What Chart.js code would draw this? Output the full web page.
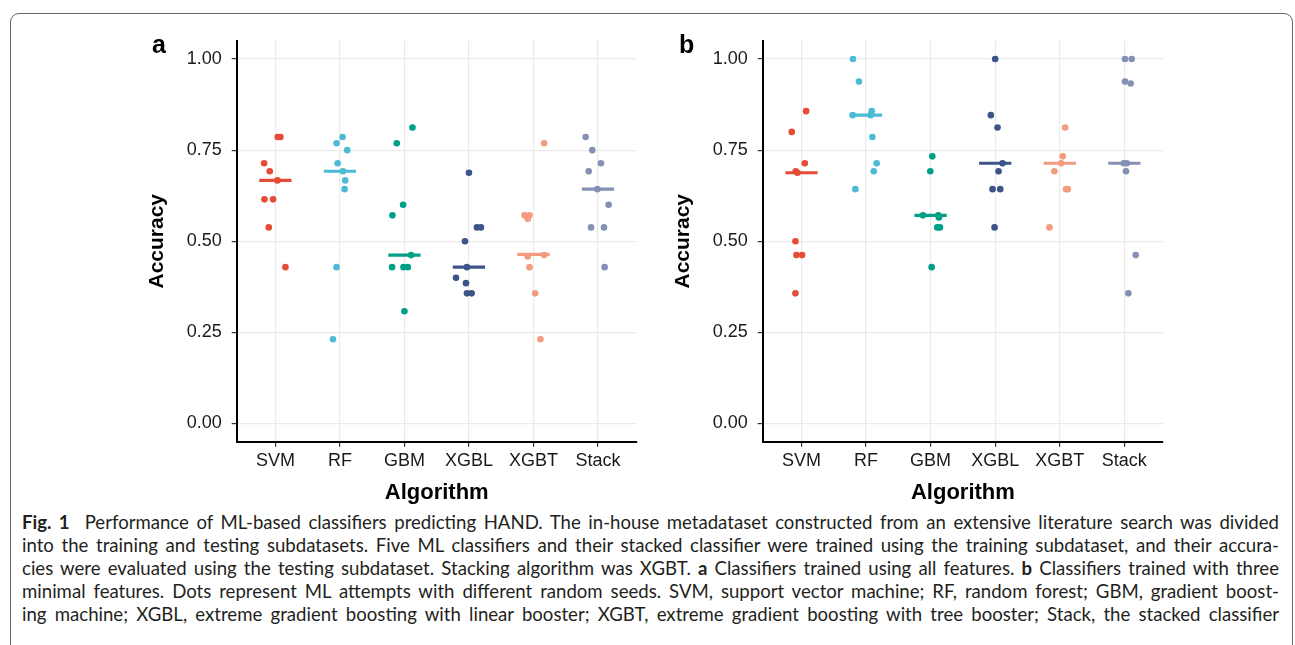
<!DOCTYPE html>
<html lang="en">
<head>
  <meta charset="UTF-8">
  <title>Fig. 1 - Accuracy of ML classifiers</title>
  <script src="https://cdn.jsdelivr.net/npm/chart.js"></script>
  <style>
    body { margin: 0; background: #fff; width: 1295px; height: 645px; overflow: hidden; position: relative; }
    .frame {
      position: absolute; left: 10px; top: 13px; width: 1283px; height: 700px;
      border: 1.3px solid #666; border-radius: 9px; box-sizing: border-box;
    }
    canvas { position: absolute; }
    .tag { position: absolute; font-family: "Liberation Sans", Arial, sans-serif; font-weight: bold; font-size: 25px; color: #000; }
    .caption {
      position: absolute; left: 22px; top: 511px; width: 1257px;
      font-family: Lato, "Open Sans", sans-serif; font-size: 18.6px; color: #231f20;
    }
    .caption div { height: 23px; line-height: 23px; white-space: nowrap; text-align: justify; text-align-last: justify; }
  </style>
</head>
<body>
  <div class="frame"></div>
  <canvas id="chartA" width="530" height="490" style="left:130px; top:20px;"></canvas>
  <canvas id="chartB" width="530" height="490" style="left:655.6px; top:20px;"></canvas>
  <div class="tag" style="left:152px; top:30px;">a</div>
  <div class="tag" style="left:679px; top:30px;">b</div>
  <div class="caption">
    <div><b>Fig. 1</b>&nbsp; Performance of ML-based classifiers predicting HAND. The in-house metadataset constructed from an extensive literature search was divided</div>
    <div>into the training and testing subdatasets. Five ML classifiers and their stacked classifier were trained using the training subdataset, and their accura-</div>
    <div>cies were evaluated using the testing subdataset. Stacking algorithm was XGBT. <b>a</b> Classifiers trained using all features. <b>b</b> Classifiers trained with three</div>
    <div>minimal features. Dots represent ML attempts with different random seeds. SVM, support vector machine; RF, random forest; GBM, gradient boost-</div>
    <div>ing machine; XGBL, extreme gradient boosting with linear booster; XGBT, extreme gradient boosting with tree booster; Stack, the stacked classifier</div>
  </div>

  <script>
    const algorithms = ["SVM", "RF", "GBM", "XGBL", "XGBT", "Stack"];
    const yTicks = [0, 0.25, 0.5, 0.75, 1];

    // panel a: all features (accuracy per random seed)
    const svmA   = [0.786, 0.786, 0.714, 0.692, 0.667, 0.615, 0.615, 0.538, 0.429];
    const rfA    = [0.786, 0.769, 0.750, 0.714, 0.692, 0.667, 0.643, 0.429, 0.231];
    const gbmA   = [0.812, 0.769, 0.600, 0.571, 0.462, 0.429, 0.429, 0.429, 0.308];
    const xgblA  = [0.688, 0.538, 0.538, 0.500, 0.429, 0.400, 0.385, 0.357, 0.357];
    const xgbtA  = [0.769, 0.571, 0.571, 0.562, 0.462, 0.458, 0.429, 0.357, 0.231];
    const stackA = [0.786, 0.750, 0.714, 0.692, 0.643, 0.600, 0.538, 0.538, 0.429];
    const medianA = [0.667, 0.692, 0.462, 0.429, 0.464, 0.643];

    // panel b: three minimal features
    const svmB   = [0.857, 0.800, 0.714, 0.692, 0.688, 0.500, 0.462, 0.462, 0.357];
    const rfB    = [1.000, 0.938, 0.857, 0.846, 0.846, 0.786, 0.714, 0.692, 0.643];
    const gbmB   = [0.733, 0.692, 0.571, 0.571, 0.565, 0.538, 0.538, 0.429];
    const xgblB  = [1.000, 0.846, 0.812, 0.714, 0.692, 0.643, 0.643, 0.538];
    const xgbtB  = [0.812, 0.733, 0.714, 0.692, 0.643, 0.643, 0.538];
    const stackB = [1.000, 1.000, 0.938, 0.933, 0.714, 0.714, 0.692, 0.462, 0.357];
    const medianB = [0.688, 0.846, 0.571, 0.714, 0.714, 0.714];

    // horizontal jitter of each dot (category units)
    const jSvmA   = [0.036, 0.077, -0.175, -0.088, 0.031, -0.036, -0.170, -0.103, 0.155];
    const jRfA    = [0.041, -0.052, 0.113, -0.036, 0.046, 0.082, 0.072, -0.052, -0.108];
    const jGbmA   = [0.124, -0.119, -0.021, -0.186, 0.103, -0.191, -0.015, 0.052, 0.0];
    const jXgblA  = [0.0, 0.124, 0.186, -0.062, -0.031, -0.201, -0.046, -0.031, 0.041];
    const jXgbtA  = [0.165, -0.139, -0.062, -0.088, 0.165, -0.088, -0.062, 0.026, 0.108];
    const jStackA = [-0.191, -0.088, 0.046, -0.144, -0.010, 0.165, -0.108, 0.093, 0.103];

    const jSvmB   = [0.072, -0.150, 0.052, -0.088, -0.062, -0.093, -0.078, 0.010, -0.093];
    const jRfB    = [-0.202, -0.109, 0.088, -0.207, 0.072, 0.098, 0.165, 0.119, -0.165];
    const jGbmB   = [0.026, -0.005, -0.119, 0.119, 0.129, 0.103, 0.145, 0.016];
    const jXgblB  = [0.0, -0.067, 0.036, 0.114, 0.052, -0.041, 0.078, -0.010];
    const jXgbtB  = [0.083, 0.047, 0.021, -0.083, 0.098, 0.124, -0.160];
    const jStackB = [0.010, 0.114, 0.010, 0.098, -0.010, 0.036, 0.026, 0.176, 0.062];

    const colors = ["#E64B35", "#4DBBD5", "#00A087", "#3C5488", "#F39B7F", "#8491B4"];
    const FONT = "'Liberation Sans', Arial, Helvetica, sans-serif";

    function buildDatasets(groups, jitters, medians) {
      const sets = [];
      groups.forEach((vals, i) => {
        sets.push({
          type: "line",
          data: [{ x: i + 1 - 0.25, y: medians[i] }, { x: i + 1 + 0.25, y: medians[i] }],
          borderColor: colors[i],
          borderWidth: 3.2,
          borderCapStyle: "butt",
          pointRadius: 0,
          order: 1
        });
        sets.push({
          type: "scatter",
          data: vals.map((v, k) => ({ x: i + 1 + jitters[i][k], y: v })),
          backgroundColor: colors[i],
          borderWidth: 0,
          pointRadius: 3.3,
          order: 0
        });
      });
      return sets;
    }

    function makePanel(id, groups, jitters, medians, padRight) {
      new Chart(document.getElementById(id), {
        type: "scatter",
        data: { datasets: buildDatasets(groups, jitters, medians) },
        options: {
          responsive: false,
          animation: false,
          layout: { padding: { top: 17.3, right: padRight, left: 0, bottom: 0 } },
          plugins: { legend: { display: false }, tooltip: { enabled: false } },
          scales: {
            x: {
              type: "linear",
              min: 0.4,
              max: 6.6,
              afterBuildTicks: s => { s.ticks = algorithms.map((a, i) => ({ value: i + 1 })); },
              afterFit: s => { s.height = 68.3; },
              ticks: {
                callback: v => algorithms[Math.round(v) - 1],
                color: "#1a1a1a",
                font: { family: FONT, size: 18 },
                padding: 4,
                maxRotation: 0
              },
              grid: { color: "#ebebeb", lineWidth: 1.2, tickColor: "#333", tickLength: 5, tickWidth: 1.2 },
              border: { color: "#000", width: 2 },
              title: {
                display: true,
                text: "Algorithm",
                color: "#000",
                font: { family: FONT, size: 22, weight: "bold" },
                padding: { top: 0, bottom: 4 }
              }
            },
            y: {
              min: -0.05,
              max: 1.05,
              afterBuildTicks: s => { s.ticks = yTicks.map(v => ({ value: v })); },
              afterFit: s => { s.width = 106.7; },
              ticks: {
                callback: v => v.toFixed(2),
                color: "#1a1a1a",
                font: { family: FONT, size: 18 },
                padding: 10
              },
              grid: { color: "#ebebeb", lineWidth: 1.2, tickColor: "#333", tickLength: 5, tickWidth: 1.2 },
              border: { color: "#000", width: 2 },
              title: {
                display: true,
                text: "Accuracy",
                color: "#000",
                font: { family: FONT, size: 21, weight: "bold" },
                padding: { top: 15, bottom: 0 }
              }
            }
          }
        }
      });
    }

    makePanel("chartA",
      [svmA, rfA, gbmA, xgblA, xgbtA, stackA],
      [jSvmA, jRfA, jGbmA, jXgblA, jXgbtA, jStackA],
      medianA, 23.3);

    makePanel("chartB",
      [svmB, rfB, gbmB, xgblB, xgbtB, stackB],
      [jSvmB, jRfB, jGbmB, jXgblB, jXgbtB, jStackB],
      medianB, 22.9);
  </script>
</body>
</html>
